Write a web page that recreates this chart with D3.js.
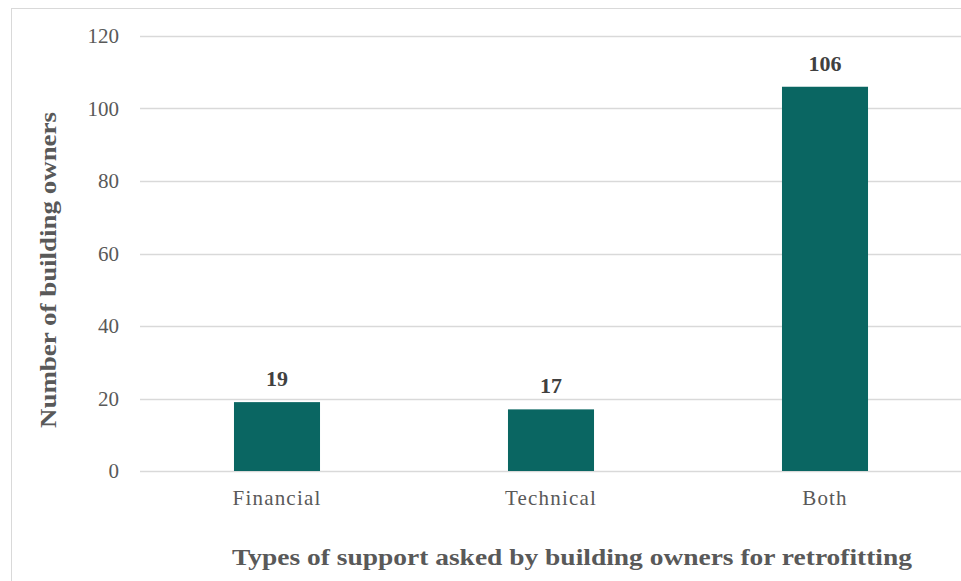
<!DOCTYPE html>
<html>
<head>
<meta charset="utf-8">
<script src="https://cdn.jsdelivr.net/npm/d3@7"></script>
<style>
  body { margin: 0; background: #fff; }
  text { font-family: 'Liberation Serif'; fill: #595959; }
</style>
</head>
<body>
<svg id="chart" width="961" height="581"></svg>
<script>
const categories = ['Financial', 'Technical', 'Both'];
const owners = [19, 17, 106];
const yTicks = [0, 20, 40, 60, 80, 100, 120];

const svg = d3.select('#chart');
const margin = { left: 140, top: 36 };
const width = 961;

// chart frame
svg.append('rect')
  .attr('x', 11.5).attr('y', 8.5)
  .attr('width', 960).attr('height', 600)
  .attr('fill', 'none').attr('stroke', '#d9d9d9');

const x = d3.scaleBand()
  .domain(categories)
  .range([margin.left, 962])
  .paddingInner(0.686)
  .paddingOuter(0.343);

const y = d3.scaleLinear()
  .domain([0, 120])
  .range([471, margin.top]);

// gridlines
svg.append('g')
  .selectAll('line')
  .data(yTicks)
  .enter()
  .append('line')
  .attr('x1', margin.left).attr('x2', width)
  .attr('y1', d => Math.round(y(d)) + 0.5)
  .attr('y2', d => Math.round(y(d)) + 0.5)
  .attr('stroke', '#d9d9d9')
  .attr('stroke-width', 1.5);

// y axis labels
const yAxis = svg.append('g')
  .attr('transform', 'translate(119,0)')
  .call(d3.axisLeft(y).tickValues(yTicks).tickSize(0).tickPadding(0));
yAxis.select('.domain').remove();
yAxis.selectAll('text')
  .style('font-family', 'Liberation Serif')
  .attr('font-size', 21)
  .style('fill', '#595959');

// bars
svg.append('g')
  .selectAll('rect')
  .data(owners)
  .enter()
  .append('rect')
  .attr('x', (d, i) => x(categories[i]))
  .attr('y', d => y(d))
  .attr('width', x.bandwidth())
  .attr('height', d => y(0) - y(d))
  .attr('fill', '#0a6662');

// value labels
svg.append('g')
  .selectAll('text')
  .data(owners)
  .enter()
  .append('text')
  .attr('x', (d, i) => x(categories[i]) + x.bandwidth() / 2)
  .attr('y', d => y(d) - 16)
  .attr('text-anchor', 'middle')
  .attr('font-size', 22)
  .attr('font-weight', 'bold')
  .style('fill', '#404040')
  .text(d => d);

// x axis labels
const xAxis = svg.append('g')
  .attr('transform', 'translate(0,471)')
  .call(d3.axisBottom(x).tickSize(0).tickPadding(0));
xAxis.select('.domain').remove();
xAxis.selectAll('text')
  .attr('dy', null)
  .attr('y', 34)
  .style('font-family', 'Liberation Serif')
  .attr('font-size', 21)
  .style('fill', '#595959')
  .attr('letter-spacing', 1.2);

// axis titles
svg.append('text')
  .attr('x', 572)
  .attr('y', 565)
  .attr('text-anchor', 'middle')
  .attr('font-size', 23)
  .attr('font-weight', 'bold')
  .attr('textLength', 680)
  .attr('lengthAdjust', 'spacingAndGlyphs')
  .text('Types of support asked by building owners for retrofitting');

svg.append('text')
  .attr('transform', 'translate(56,270) rotate(-90)')
  .attr('text-anchor', 'middle')
  .attr('font-size', 23)
  .attr('font-weight', 'bold')
  .attr('textLength', 316)
  .attr('lengthAdjust', 'spacingAndGlyphs')
  .text('Number of building owners');
</script>
</body>
</html>
